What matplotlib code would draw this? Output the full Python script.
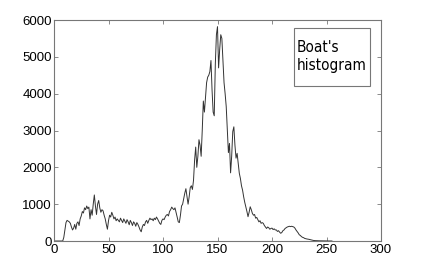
import matplotlib
matplotlib.use("Agg")
import matplotlib.pyplot as plt
from matplotlib.patches import Rectangle

# 灰度级与对应像素个数
levels = [0, 2, 4, 6, 8, 9, 10, 11, 12, 13, 14, 15, 16, 17, 18, 19, 20, 21, 22, 23,
          24, 25, 26, 27, 28, 29, 30, 31, 32, 33, 34, 35, 36, 37, 38, 39, 40, 41, 42, 43,
          44, 45, 46, 47, 48, 49, 50, 51, 52, 53, 54, 55, 56, 57, 58, 60, 61, 62, 63, 64,
          65, 66, 67, 68, 69, 70, 71, 72, 73, 74, 75, 76, 77, 78, 79, 80, 81, 82, 83, 84,
          85, 86, 87, 88, 89, 90, 91, 92, 93, 94, 95, 96, 97, 98, 99, 100, 101, 102, 103, 104,
          105, 106, 107, 108, 109, 110, 111, 112, 113, 114, 115, 116, 117, 118, 119, 120, 121, 122, 123, 124,
          125, 126, 127, 128, 129, 130, 131, 132, 133, 134, 135, 136, 137, 138, 139, 140, 141, 142, 143, 144,
          145, 146, 147, 148, 149, 150, 151, 152, 153, 154, 155, 156, 157, 158, 159, 160, 161, 162, 163, 164,
          165, 166, 167, 168, 169, 170, 171, 172, 173, 174, 175, 176, 177, 178, 179, 180, 181, 182, 183, 184,
          185, 186, 187, 188, 189, 190, 191, 192, 193, 194, 195, 196, 197, 198, 199, 200, 201, 202, 203, 204,
          205, 206, 207, 208, 209, 210, 211, 212, 213, 214, 215, 216, 217, 218, 219, 220, 221, 222, 223, 224,
          225, 226, 227, 228, 229, 230, 232, 234, 236, 238, 240, 244, 250, 255]
counts = [0, 0, 0, 0, 0, 100, 300, 500, 560, 540, 520, 480, 380, 300, 350, 450, 320, 480, 520, 420,
          600, 680, 800, 760, 900, 850, 950, 880, 920, 600, 850, 700, 1000, 1250, 950, 720, 1000, 1100, 900, 780,
          850, 820, 700, 600, 450, 320, 550, 700, 650, 780, 700, 600, 650, 550, 600, 520, 620, 560, 500, 600,
          540, 480, 580, 520, 440, 560, 500, 420, 520, 480, 400, 500, 450, 380, 300, 250, 380, 450, 420, 520,
          560, 480, 560, 620, 580, 600, 550, 620, 580, 650, 600, 540, 480, 450, 560, 600, 580, 650, 700, 720,
          680, 800, 850, 920, 880, 850, 900, 780, 650, 520, 500, 700, 950, 1000, 1150, 1300, 1420, 1200, 1000, 1200,
          1450, 1500, 1400, 1650, 2200, 2550, 2000, 2300, 2750, 2600, 2300, 3000, 3800, 3500, 3900, 4300, 4450, 4500, 4600, 4900,
          4100, 3500, 3400, 4800, 5600, 5820, 4700, 5200, 5600, 5500, 4900, 4300, 4000, 3650, 3000, 2400, 2650, 1850, 2300, 2970,
          3100, 2600, 2250, 2380, 2100, 1840, 1700, 1500, 1380, 1200, 1050, 930, 800, 660, 780, 930, 850, 750, 700, 720,
          620, 640, 580, 520, 550, 480, 500, 480, 420, 380, 340, 380, 360, 320, 340, 350, 310, 330, 300, 300,
          260, 280, 240, 210, 230, 280, 300, 340, 360, 380, 390, 400, 390, 400, 390, 380, 350, 300, 260, 220,
          170, 150, 120, 100, 90, 70, 55, 45, 30, 15, 10, 5, 2, 0]

x_ticks = [0, 50, 100, 150, 200, 250, 300]
y_ticks = [0, 1000, 2000, 3000, 4000, 5000, 6000]
title_lines = "Boat's\nhistogram"

fig = plt.figure(figsize=(4.21, 2.71), dpi=100)
ax = fig.add_axes([54 / 421, 30 / 271, 327 / 421, 221 / 271])

ax.plot(levels, counts, color="#333333", linewidth=0.7)

ax.set_xlim(0, 300)
ax.set_ylim(0, 6000)
ax.set_xticks(x_ticks)
ax.set_yticks(y_ticks)
ax.tick_params(direction="in", top=True, right=True, length=3, width=0.6,
               color="#777777", labelsize=9.5, labelcolor="black")
ax.tick_params(axis="y", pad=1.5)
ax.tick_params(axis="x", pad=2.5)
for sp in ax.spines.values():
    sp.set_color("#777777")
    sp.set_linewidth(0.8)

for lab in ax.get_xticklabels() + ax.get_yticklabels():
    lab.set_family(["Liberation Sans", "DejaVu Sans"])

# 右上角的说明框
ax.add_patch(Rectangle((0.734, 0.701), 0.232, 0.263, transform=ax.transAxes,
                       fill=False, edgecolor="#777777", linewidth=0.8))
ax.text(0.742, 0.835, title_lines, transform=ax.transAxes, ha="left", va="center",
        fontsize=11, family="DejaVu Sans", fontstretch="condensed",
        linespacing=1.3, color="black")

plt.savefig("out.png", dpi=100)
plt.close()
